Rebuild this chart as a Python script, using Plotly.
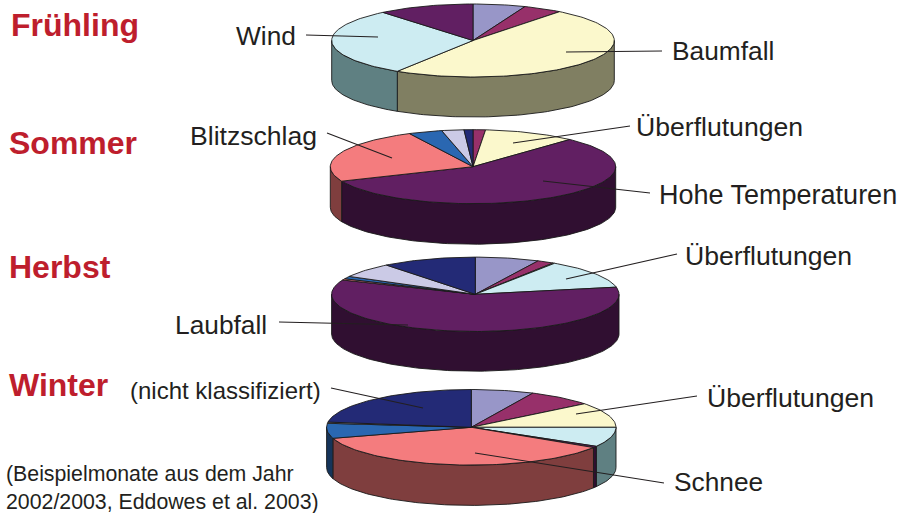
import math
import plotly.graph_objects as go

# Slice order (clockwise from 12 o'clock) and percentage shares
slice_names = ["Sturm", "Eis", "Überflutungen", "Schnee-Wasser", "Hohe Temperaturen / Laubfall",
               "Blitzschlag / Schnee", "Sonstige", "Tiere", "nicht klassifiziert"]
fruehling_values = [6.0, 4.5, 48.5, 30.0, 11.0, 0, 0, 0, 0]
sommer_values = [0, 1.4, 10.4, 0, 56.4, 23.9, 3.8, 2.5, 1.0]
herbst_values = [7.2, 1.9, 0.2, 12.6, 59.3, 0.6, 1.1, 6.4, 10.6]
winter_values = [7.0, 7.3, 10.7, 8.4, 0.6, 36.3, 6.4, 0.5, 22.8]

top_colors = ["#9896C8", "#97306A", "#FBF8CC", "#CDECF2", "#611F62", "#F47C7E", "#2A67B1", "#CBCAE6", "#232A76"]
side_colors = ["#4C4B64", "#4C1835", "#807F62", "#5F8082", "#300F31", "#7F3E3E", "#15345A", "#666573", "#12153B"]

seasons = ["Frühling", "Sommer", "Herbst", "Winter"]
season_values = [fruehling_values, sommer_values, herbst_values, winter_values]

# layout geometry of each drawn disc: cx, cy, rx, ry, depth
disc_geometry = [(473, 40.5, 141.3, 36.5, 40), (473, 166.7, 142.7, 37, 40.5),
                 (475.3, 294.3, 143.7, 37.2, 39.7), (471.3, 427.3, 144.7, 37.8, 40.3)]
season_title_pos = [(10, 25), (8, 143), (8, 267), (8, 385)]

# text, font size, text x, y, leader x0, y0, x1, y1
callouts = [
    ("Wind", 26.3, 235, 36, 306, 35, 378, 37),
    ("Baumfall", 26.3, 671, 51, 662, 51, 566, 52),
    ("Blitzschlag", 26.6, 189, 136, 327, 133, 392, 158),
    ("Überflutungen", 26.6, 635, 127, 630, 126, 513, 143),
    ("Hohe Temperaturen", 27, 658, 195, 650, 193, 543, 181),
    ("Überflutungen", 26.6, 684, 256, 677, 254, 566, 279),
    ("Laubfall", 26.3, 174, 325, 279, 322, 408, 325),
    ("(nicht klassifiziert)", 24, 129, 390, 331, 388, 423, 408),
    ("Überflutungen", 26.6, 706, 398, 697, 396, 576, 414),
    ("Schnee", 26.3, 673, 482, 664, 483, 475, 453),
]
source_lines = [("(Beispielmonate aus dem Jahr", 5, 474), ("2002/2003, Eddowes et al. 2003)", 5, 502)]

TEXT = "#231F20"
RED = "#BE1E2D"
LABEL_FONT = "Liberation Sans, Arial, sans-serif"


def arc(geo, a0, a1, dy=0.0):
    cx, cy, rx, ry, _ = geo
    n = max(2, int(abs(a1 - a0) / 1.5) + 2)
    xs, ys = [], []
    for i in range(n):
        t = math.radians(a0 + (a1 - a0) * i / (n - 1))
        xs.append(cx + rx * math.sin(t))
        ys.append(cy - ry * math.cos(t) + dy)
    return xs, ys


def poly_trace(xs, ys, fill, name):
    return go.Scatter(x=xs, y=ys, mode="lines", fill="toself", fillcolor=fill, name=name,
                      line=dict(color="#1a1a1a", width=0.9), hoverinfo="name", showlegend=False)


fig = go.Figure()
for season, values, geo in zip(seasons, season_values, disc_geometry):
    cx, cy, rx, ry, depth = geo
    total = sum(values)
    angles = [0.0]
    for v in values:
        angles.append(angles[-1] + v / total * 360.0)
    # rim: only the front half (90..270 degrees) is visible
    for i, v in enumerate(values):
        a0, a1 = max(angles[i], 90.0), min(angles[i + 1], 270.0)
        if v > 0 and a1 > a0:
            tx, ty = arc(geo, a0, a1)
            bx, by = arc(geo, a1, a0, depth)
            fig.add_trace(poly_trace(tx + bx + tx[:1], ty + by + ty[:1], side_colors[i],
                                     f"{season}: {slice_names[i]} (Rand)"))
    # top face
    for i, v in enumerate(values):
        if v > 0:
            tx, ty = arc(geo, angles[i], angles[i + 1])
            fig.add_trace(poly_trace([cx] + tx + [cx], [cy] + ty + [cy], top_colors[i],
                                     f"{season}: {slice_names[i]}"))

annotations = []
for season, (x, y) in zip(seasons, season_title_pos):
    annotations.append(dict(x=x, y=y, text=f"<b>{season}</b>", xanchor="left", yanchor="middle",
                            showarrow=False, font=dict(family=LABEL_FONT, size=32, color=RED)))
shapes = []
for text, size, tx, ty, x0, y0, x1, y1 in callouts:
    annotations.append(dict(x=tx, y=ty, text=text, xanchor="left", yanchor="middle", showarrow=False,
                            font=dict(family=LABEL_FONT, size=size, color=TEXT)))
    shapes.append(dict(type="line", x0=x0, y0=y0, x1=x1, y1=y1, xref="x", yref="y",
                       line=dict(color="#231F20", width=1.1)))
for text, x, y in source_lines:
    annotations.append(dict(x=x, y=y, text=text, xanchor="left", yanchor="middle", showarrow=False,
                            font=dict(family=LABEL_FONT, size=21.3, color=TEXT)))

fig.update_layout(
    width=899, height=513, margin=dict(l=0, r=0, t=0, b=0),
    paper_bgcolor="white", plot_bgcolor="white", showlegend=False,
    xaxis=dict(range=[0, 899], visible=False, fixedrange=True),
    yaxis=dict(range=[513, 0], visible=False, fixedrange=True),
    annotations=annotations, shapes=shapes,
)
for a in fig.layout.annotations:
    a.update(xref="x", yref="y", borderpad=0, align="left")

fig.write_html("out.html", config={"displayModeBar": False},
               post_script="document.body.style.margin='0';")
